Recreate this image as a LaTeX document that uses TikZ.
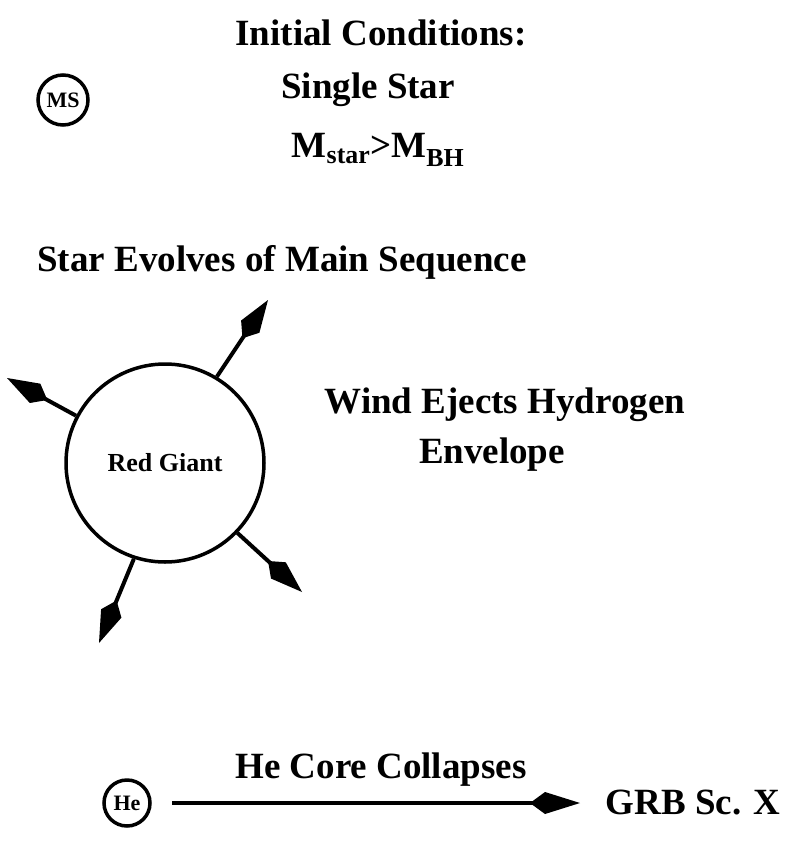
\documentclass[tikz,border=0pt]{standalone}
\usepackage{fontspec}
\setmainfont{Liberation Serif}
\usetikzlibrary{arrows.meta}
\begin{document}
\begin{tikzpicture}[x=1pt,y=-1pt,
  lbl/.style={font=\fontsize{37}{40}\selectfont\bfseries},
  circ/.style={circle,draw,line width=3.5pt,inner sep=0pt},
  wind/.style={line width=4pt,-{Kite[length=46pt,width=22pt,inset=14pt]}}]
\useasboundingbox (0,0) rectangle (795,861);
\node[lbl] (ic) at (381,33) {Initial Conditions:};
\node[lbl] (ss) at (368,90) {Single Star};
\node[lbl] (mm) at (378,150) {M\textsubscript{star}>M\textsubscript{BH}};
\node[circ,minimum size=50pt,font=\fontsize{22}{24}\selectfont\bfseries] (ms) at (63,100) {MS};
\node[lbl] (sev) at (282,262) {Star Evolves of Main Sequence};
\node[circ,minimum size=198pt,font=\fontsize{26}{28}\selectfont\bfseries] (rg) at (165,463) {Red Giant};
\coordinate (w1) at (268,300);
\coordinate (w2) at (7,378);
\coordinate (w3) at (302,592);
\coordinate (w4) at (99,643);
\draw[wind] (rg.59) -- (w1);
\draw[wind] (rg.152) -- (w2);
\draw[wind] (rg.-44) -- (w3);
\draw[wind] (rg.-108) -- (w4);
\node[lbl] (we) at (505,405) {Wind Ejects Hydrogen};
\node[lbl] (env) at (492,455) {Envelope};
\node[circ,minimum size=46pt,font=\fontsize{22}{24}\selectfont\bfseries] (he) at (127,803) {He};
\node[lbl] (grb) at (693,803) {GRB Sc. X};
\coordinate (ae) at (580,803);
\draw[line width=4pt,-{Kite[length=50pt,width=22pt,inset=15pt]}] (172,803) -- (ae);
\node[lbl] (hcc) at (381,770) {He Core Collapses};
\end{tikzpicture}
\end{document}
